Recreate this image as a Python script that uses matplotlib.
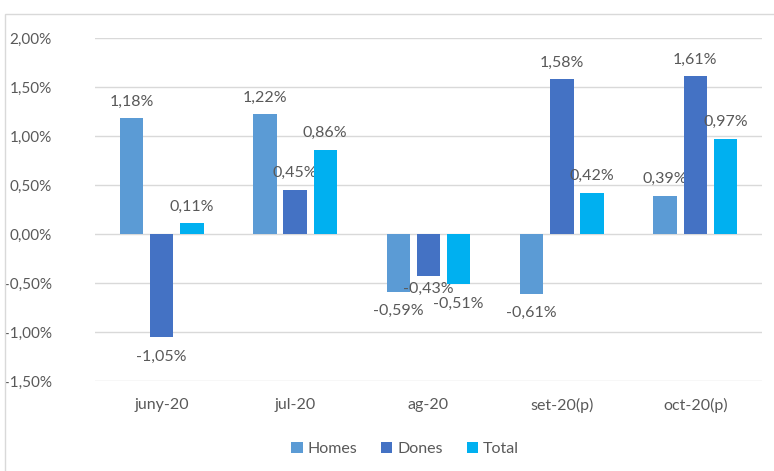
import matplotlib
matplotlib.use("Agg")
import matplotlib.pyplot as plt
from matplotlib.patches import Rectangle
import numpy as np

categories = ["juny-20", "jul-20", "ag-20", "set-20(p)", "oct-20(p)"]
homes = [1.18, 1.22, -0.59, -0.61, 0.39]
dones = [-1.05, 0.45, -0.43, 1.58, 1.61]
total = [0.11, 0.86, -0.51, 0.42, 0.97]
series_names = ["Homes", "Dones", "Total"]
yticks = [-1.5, -1.0, -0.5, 0.0, 0.5, 1.0, 1.5, 2.0]

colors = ["#5B9BD5", "#4472C4", "#00B0F0"]
txt = "#595959"
plt.rcParams['font.family'] = ['Lato', 'DejaVu Sans']
fs = 11.5

def fmt(v):
    return f"{v:.2f}".replace(".", ",") + "%"

fig = plt.figure(figsize=(7.74, 4.71), dpi=100)
fig.patches.append(Rectangle((5/774, -0.01), 1.0, 1 - 14/471 + 0.01, transform=fig.transFigure,
                             fill=False, edgecolor="#D9D9D9", linewidth=1.0))
ax = fig.add_axes([95/774, 1 - 381/471, (762 - 95)/774, (381 - 38)/471])

x = np.arange(len(categories))
w = 0.176
step = 0.226
for i, (name, vals) in enumerate(zip(series_names, [homes, dones, total])):
    bars = ax.bar(x + (i - 1) * step, vals, width=w, color=colors[i], label=name, zorder=3)
    for j, (b, v) in enumerate(zip(bars, vals)):
        cx = b.get_x() + b.get_width() / 2
        if v >= 0:
            ax.annotate(fmt(v), (cx, v), xytext=(0, 7), textcoords="offset points",
                        ha="center", va="bottom", fontsize=fs, color=txt)
        else:
            off = -9
            if i == 1 and j == 2:
                off = -4  # Excel nudges this label up to avoid its neighbours
            ax.annotate(fmt(v), (cx, v), xytext=(0, off), textcoords="offset points",
                        ha="center", va="top", fontsize=fs, color=txt)

ax.set_xlim(-0.5, len(categories) - 0.5)
ax.set_ylim(-1.5, 2.0)
ax.set_yticks(yticks)
ax.set_yticklabels([fmt(v) for v in yticks], fontsize=11, color=txt)
ax.set_xticks(x)
ax.set_xticklabels(categories, fontsize=fs, color=txt)
ax.tick_params(axis='x', length=0, pad=12)
ax.tick_params(axis='y', length=0, pad=31)
ax.grid(axis='y', color="#D9D9D9", linewidth=1.0, zorder=0)
for s in ax.spines.values():
    s.set_visible(False)

leg = fig.legend(loc="center", bbox_to_anchor=(405/774, 1 - 449/471), ncol=3, frameon=False,
                 fontsize=fs, handlelength=0.7, handleheight=0.7, handletextpad=0.3,
                 columnspacing=1.5)
for t in leg.get_texts():
    t.set_color(txt)

fig.savefig("out.png", dpi=100)
